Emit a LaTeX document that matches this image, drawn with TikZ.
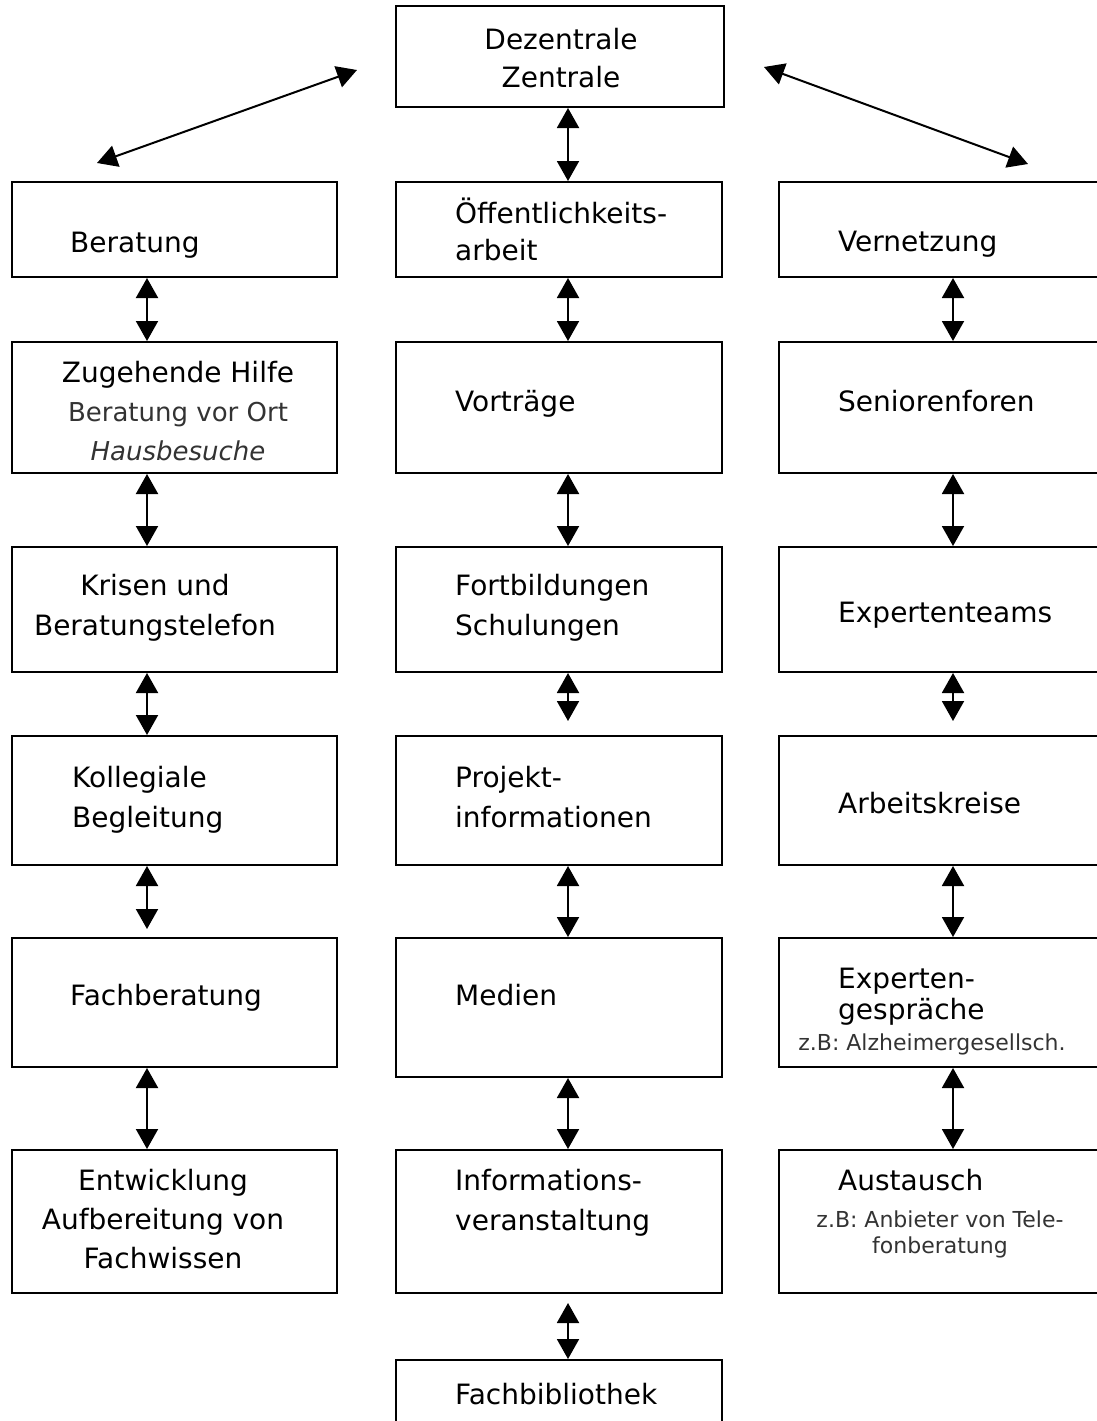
\documentclass[tikz,border=0pt]{standalone}
\usepackage{fontspec}
\setmainfont{DejaVu Sans}
\usetikzlibrary{arrows.meta}

\begin{document}
\begin{tikzpicture}[x=1pt,y=-1pt,
	kasten/.style={draw,line width=2pt,minimum width=325pt,inner sep=0pt},
	txt/.style={anchor=base west,inner sep=0pt,align=left,font=\fontsize{28}{40}\selectfont},
	ctxt/.style={anchor=base,inner sep=0pt,align=center,font=\fontsize{28}{40}\selectfont},
	klein/.style={anchor=base,inner sep=0pt,align=center,text=black!80,font=\fontsize{22}{26}\selectfont},
	pfeil/.style={{Triangle[width=22pt,length=20pt]}-{Triangle[width=22pt,length=20pt]},line width=2pt}]
\useasboundingbox (0,0) rectangle (1097,1421);

\node [kasten,minimum width=328pt,minimum height=101pt] (zent) at (560,56.5) {};

\node [kasten,minimum height=95pt] (bera) at (174.5,229.5) {};
\node [kasten,minimum height=131pt] (zuge) at (174.5,407.5) {};
\node [kasten,minimum height=125pt] (kris) at (174.5,609.5) {};
\node [kasten,minimum height=129pt] (koll) at (174.5,800.5) {};
\node [kasten,minimum height=129pt] (fach) at (174.5,1002.5) {};
\node [kasten,minimum height=143pt] (entw) at (174.5,1221.5) {};

\node [kasten,minimum width=326pt,minimum height=95pt] (oeff) at (559,229.5) {};
\node [kasten,minimum width=326pt,minimum height=131pt] (vort) at (559,407.5) {};
\node [kasten,minimum width=326pt,minimum height=125pt] (fort) at (559,609.5) {};
\node [kasten,minimum width=326pt,minimum height=129pt] (proj) at (559,800.5) {};
\node [kasten,minimum width=326pt,minimum height=139pt] (medi) at (559,1007.5) {};
\node [kasten,minimum width=326pt,minimum height=143pt] (info) at (559,1221.5) {};
\node [kasten,minimum width=326pt,minimum height=80pt] (bibl) at (559,1400) {};

\node [kasten,minimum height=95pt] (vern) at (941.5,229.5) {};
\node [kasten,minimum height=131pt] (seni) at (941.5,407.5) {};
\node [kasten,minimum height=125pt] (expt) at (941.5,609.5) {};
\node [kasten,minimum height=129pt] (arbk) at (941.5,800.5) {};
\node [kasten,minimum height=129pt] (expg) at (941.5,1002.5) {};
\node [kasten,minimum height=143pt] (aust) at (941.5,1221.5) {};

% Texte, y = Grundlinie der letzten Zeile
\node [ctxt,font=\fontsize{28}{38}\selectfont] (t-zent) at (561,88) {Dezentrale\\Zentrale};

\node [txt] (t-bera) at (70,252) {Beratung};
\node [ctxt,font=\fontsize{28}{39}\selectfont] (t-zuge) at (178,460) {Zugehende Hilfe\\{\color{black!80}\fontsize{26}{39}\selectfont Beratung vor Ort}\\{\color{black!80}\fontsize{26}{39}\selectfont\itshape Hausbesuche}};
\node [ctxt] (t-kris) at (155,635) {Krisen und\\Beratungstelefon};
\node [txt] (t-koll) at (72,827) {Kollegiale\\Begleitung};
\node [txt] (t-fach) at (70,1005) {Fachberatung};
\node [ctxt,font=\fontsize{28}{39}\selectfont] (t-entw) at (163,1268) {Entwicklung\\Aufbereitung von\\Fachwissen};

\node [txt,font=\fontsize{28}{37}\selectfont] (t-oeff) at (455,260) {Öffentlichkeits-\\arbeit};
\node [txt] (t-vort) at (455,411) {Vorträge};
\node [txt] (t-fort) at (455,635) {Fortbildungen\\Schulungen};
\node [txt] (t-proj) at (455,827) {Projekt-\\informationen};
\node [txt] (t-medi) at (455,1005) {Medien};
\node [txt] (t-info) at (455,1230) {Informations-\\veranstaltung};
\node [txt] (t-bibl) at (455,1404) {Fachbibliothek};

\node [txt] (t-vern) at (838,251) {Vernetzung};
\node [txt] (t-seni) at (838,411) {Seniorenforen};
\node [txt] (t-expt) at (838,622) {Expertenteams};
\node [txt] (t-arbk) at (838,813) {Arbeitskreise};
\node [txt,font=\fontsize{28}{31}\selectfont] (t-expg) at (838,1019) {Experten-\\gespräche};
\node [klein] (t-expg2) at (932,1050) {z.B: Alzheimergesellsch.};
\node [txt] (t-aust) at (838,1190) {Austausch};
\node [klein] (t-aust2) at (940,1253) {z.B: Anbieter von Tele-\\fonberatung};

\coordinate (xl) at (147,0);
\coordinate (xm) at (568,0);
\coordinate (xr) at (953,0);
\coordinate (dl1) at (97,163);
\coordinate (dl2) at (357,70);
\coordinate (dr1) at (764,67);
\coordinate (dr2) at (1028,164);

\draw [pfeil] (dl1) -- (dl2);
\draw [pfeil] (dr1) -- (dr2);
\draw [pfeil] (zent.south -| xm) -- (oeff.north -| xm);

\draw [pfeil] (bera.south -| xl) -- (zuge.north -| xl);
\draw [pfeil] (zuge.south -| xl) -- (kris.north -| xl);
\draw [pfeil] (kris.south -| xl) -- (koll.north -| xl);
\draw [pfeil,shorten >=8pt] (koll.south -| xl) -- (fach.north -| xl);
\draw [pfeil] (fach.south -| xl) -- (entw.north -| xl);

\draw [pfeil] (oeff.south -| xm) -- (vort.north -| xm);
\draw [pfeil] (vort.south -| xm) -- (fort.north -| xm);
\draw [pfeil,shorten >=14pt] (fort.south -| xm) -- (proj.north -| xm);
\draw [pfeil] (proj.south -| xm) -- (medi.north -| xm);
\draw [pfeil] (medi.south -| xm) -- (info.north -| xm);
\draw [pfeil,shorten <=9pt] (info.south -| xm) -- (bibl.north -| xm);

\draw [pfeil] (vern.south -| xr) -- (seni.north -| xr);
\draw [pfeil] (seni.south -| xr) -- (expt.north -| xr);
\draw [pfeil,shorten >=14pt] (expt.south -| xr) -- (arbk.north -| xr);
\draw [pfeil] (arbk.south -| xr) -- (expg.north -| xr);
\draw [pfeil] (expg.south -| xr) -- (aust.north -| xr);
\end{tikzpicture}
\end{document}
